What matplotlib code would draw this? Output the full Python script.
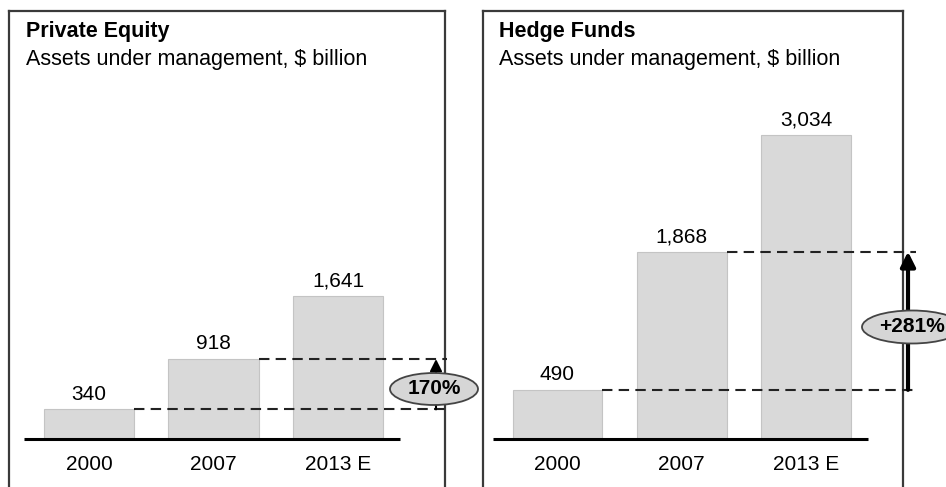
import matplotlib.pyplot as plt
from matplotlib.patches import Ellipse

plt.rcParams['font.family'] = ['Liberation Sans', 'DejaVu Sans']

years = ['2000', '2007', '2013 E']
pe_values = [340, 918, 1641]
pe_labels = ['340', '918', '1,641']
hf_values = [490, 1868, 3034]
hf_labels = ['490', '1,868', '3,034']
pe_growth = '170%'
hf_growth = '+281%'

W, H = 946, 487
fig = plt.figure(figsize=(W / 100, H / 100), dpi=100)

BAR_FILL = '#d9d9d9'
BAR_EDGE = '#c4c4c4'
BOX = '#3a3a3a'
FS = 15
BASE = 439  # baseline pixel row


def px_axes(x0, x1, y0, y1):
    # pixel box (top-left origin) -> figure axes
    return fig.add_axes([x0 / W, 1 - y1 / H, (x1 - x0) / W, (y1 - y0) / H])


def panel(ax, values, labels, growth, ylim, xlim, arrow_x, dash_end,
          ell_x, ell_y, ell_w, ell_h, lw_arrow, head):
    ax.set_xlim(*xlim)
    ax.set_ylim(*ylim)
    ax.set_xticks([])
    ax.set_yticks([])
    for s in ['left', 'right', 'top']:
        ax.spines[s].set_color(BOX)
        ax.spines[s].set_linewidth(1.6)
    ax.spines['bottom'].set_visible(False)

    x = range(len(values))
    bw = 0.723
    ax.bar(x, values, width=bw, color=BAR_FILL, edgecolor=BAR_EDGE, linewidth=0.8, zorder=2)
    ax.plot([-0.52, 2.5], [0, 0], color='black', lw=2.2, solid_capstyle='butt', zorder=3)

    for i, (v, lab) in enumerate(zip(values, labels)):
        ax.annotate(lab, (i, v), xytext=(0, 4), textcoords='offset points',
                    ha='center', va='bottom', fontsize=FS)
        ax.annotate(years[i], (i, 0), xytext=(0, -18.5), textcoords='offset points',
                    ha='center', va='center', fontsize=FS)

    # dashed reference lines from the first two bars
    for i in (0, 1):
        ax.plot([i + bw / 2, dash_end], [values[i], values[i]], color='#222222',
                lw=1.5, ls=(0, (5, 3)), clip_on=False, zorder=3)

    ax.annotate('', xy=(arrow_x, values[1]), xytext=(arrow_x, values[0]),
                arrowprops=dict(arrowstyle='-|>', color='black', lw=lw_arrow,
                                mutation_scale=head, shrinkA=0, shrinkB=0),
                annotation_clip=False, zorder=4)

    e = Ellipse((ell_x, ell_y), ell_w, ell_h, facecolor='#d6d6d6', edgecolor='#444444',
                lw=1.3, clip_on=False, zorder=5)
    ax.add_patch(e)
    ax.text(ell_x, ell_y, growth, ha='center', va='center', fontsize=FS,
            fontweight='bold', zorder=6, clip_on=False)
    return ax


# Private Equity panel: box 9..445 px
ax1 = px_axes(9, 445, 11, 488)
s1 = 0.0871
panel(ax1, pe_values, pe_labels, pe_growth,
      ylim=(-(488 - BASE) / s1, (BASE - 11) / s1),
      xlim=(-(89 - 9) / 124.5, 2 + (445 - 338) / 124.5),
      arrow_x=(436 - 89) / 124.5, dash_end=(447 - 89) / 124.5,
      ell_x=(434 - 89) / 124.5, ell_y=(BASE - 389) / s1,
      ell_w=88 / 124.5, ell_h=32 / s1, lw_arrow=1.5, head=18)

# Hedge Funds panel: box 483..903 px
ax2 = px_axes(483, 903, 11, 488)
s2 = 0.1003
panel(ax2, hf_values, hf_labels, hf_growth,
      ylim=(-(488 - BASE) / s2, (BASE - 11) / s2),
      xlim=(-(557.5 - 483) / 124.25, 2 + (903 - 806) / 124.25),
      arrow_x=(908 - 557.5) / 124.25, dash_end=(916 - 557.5) / 124.25,
      ell_x=(912 - 557.5) / 124.25, ell_y=(BASE - 327) / s2,
      ell_w=100 / 124.25, ell_h=33 / s2, lw_arrow=3, head=22)

for x0, t in [(26, 'Private Equity'), (499, 'Hedge Funds')]:
    fig.text(x0 / W, 1 - 37 / H, t, ha='left', va='baseline', fontsize=FS + 0.5,
             fontweight='bold')
    fig.text(x0 / W, 1 - 65 / H, 'Assets under management, $ billion', ha='left',
             va='baseline', fontsize=FS + 0.5)

fig.savefig('out.png', dpi=100)
